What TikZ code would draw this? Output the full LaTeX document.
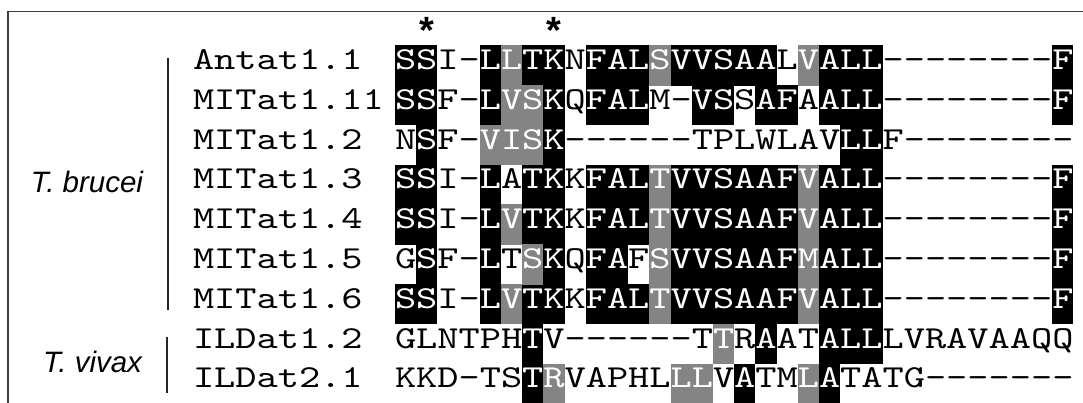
\documentclass[tikz,border=0pt]{standalone}
\usepackage{fontspec}
\newfontfamily\seqfont{lmmono10-regular.otf}[Ligatures=TeXOff, FakeStretch=1.262]
\newfontfamily\specfont{Liberation Sans}
\definecolor{simgray}{RGB}{132,132,132}
\definecolor{framecol}{RGB}{60,60,60}
\newcommand\W[1]{\textcolor{white}{#1}}
\tikzset{
  seqtxt/.style={inner sep=0pt, outer sep=0pt, anchor=base west,
    font=\seqfont\fontsize{32}{32}\selectfont},
  spectxt/.style={inner sep=0pt, outer sep=0pt, anchor=base east,
    font=\specfont\itshape\fontsize{29.5}{29.5}\selectfont},
  startxt/.style={inner sep=0pt, outer sep=0pt,
    font=\specfont\bfseries\fontsize{38}{38}\selectfont},
  bar/.style={line width=2pt, draw=black!85},
  framestyle/.style={line width=1.6pt, draw=framecol},
}
% cell geometry: column width, row pitch, first column x, first row top
\def\cw{21.2}
\def\rh{39.8}
\def\xo{395}
\def\yo{45.5}
\begin{document}
\begin{tikzpicture}[x=1pt, y=-1pt]
\useasboundingbox (0,0) rectangle (1083,403);

% outer frame (open at right and bottom)
\coordinate (fbl) at (8,404);
\coordinate (ftl) at (8,11.7);
\coordinate (ftr) at (1084,11.7);
\draw[framestyle] (fbl) -- (ftl) -- (ftr);

% identical residues
\foreach \r/\a/\b in {
  0/0/1, 0/4/4, 0/6/7, 0/9/11, 0/13/17, 0/20/22, 0/31/31,
  1/0/1, 1/4/4, 1/7/7, 1/9/11, 1/14/15, 1/17/18, 1/20/22, 1/31/31,
  2/1/1, 2/7/7, 2/21/22,
  3/0/1, 3/4/4, 3/6/7, 3/9/11, 3/13/18, 3/20/22, 3/31/31,
  4/0/1, 4/4/4, 4/6/7, 4/9/11, 4/13/18, 4/20/22, 4/31/31,
  5/1/1, 5/4/4, 5/7/7, 5/9/10, 5/13/18, 5/20/22, 5/31/31,
  6/0/1, 6/4/4, 6/6/7, 6/9/11, 6/13/18, 6/20/22, 6/31/31,
  7/6/6, 7/17/17, 7/20/22,
  8/6/6, 8/16/16, 8/20/20}
  \fill[black] ({\xo+\a*\cw},{\yo+\r*\rh-0.3}) rectangle ({\xo+(\b+1)*\cw},{\yo+(\r+1)*\rh+0.3});

% similar residues
\foreach \r/\a/\b in {
  0/5/5, 0/12/12, 0/19/19,
  1/5/6,
  2/4/6,
  3/12/12, 3/19/19,
  4/5/5, 4/12/12, 4/19/19,
  5/6/6, 5/12/12, 5/19/19,
  6/5/5, 6/12/12, 6/19/19,
  7/15/15,
  8/7/7, 8/13/14, 8/19/19}
  \fill[simgray] ({\xo+\a*\cw},{\yo+\r*\rh-0.3}) rectangle ({\xo+(\b+1)*\cw},{\yo+(\r+1)*\rh+0.3});

% conserved-site markers
\node[startxt] (star1) at ({\xo+1.5*\cw},30) {*};
\node[startxt] (star7) at ({\xo+7.5*\cw},30) {*};

% sequence names
\foreach \nm [count=\i from 0] in {Antat1.1,MITat1.11,MITat1.2,MITat1.3,MITat1.4,MITat1.5,MITat1.6,ILDat1.2,ILDat2.1}
  \node[seqtxt] (name\i) at (193,{\yo+24+\i*\rh}) {\nm};

% aligned sequences
\node[seqtxt] (seq0) at (\xo,{\yo+24+0*\rh}) {\W{SS}I-\W{LLTK}N\W{FALSVVSAA}L\W{VALL}--------\W{F}};
\node[seqtxt] (seq1) at (\xo,{\yo+24+1*\rh}) {\W{SS}F-\W{LVSK}Q\W{FAL}M-\W{VS}S\W{AF}A\W{ALL}--------\W{F}};
\node[seqtxt] (seq2) at (\xo,{\yo+24+2*\rh}) {N\W{S}F-\W{VISK}------TPLWLAV\W{LL}F--------};
\node[seqtxt] (seq3) at (\xo,{\yo+24+3*\rh}) {\W{SS}I-\W{L}A\W{TK}K\W{FALTVVSAAFVALL}--------\W{F}};
\node[seqtxt] (seq4) at (\xo,{\yo+24+4*\rh}) {\W{SS}I-\W{LVTK}K\W{FALTVVSAAFVALL}--------\W{F}};
\node[seqtxt] (seq5) at (\xo,{\yo+24+5*\rh}) {G\W{S}F-\W{L}T\W{SK}Q\W{FA}F\W{SVVSAAFMALL}--------\W{F}};
\node[seqtxt] (seq6) at (\xo,{\yo+24+6*\rh}) {\W{SS}I-\W{LVTK}K\W{FALTVVSAAFVALL}--------\W{F}};
\node[seqtxt] (seq7) at (\xo,{\yo+24+7*\rh}) {GLNTPH\W{T}V------T\W{T}R\W{A}AT\W{ALL}LVRAVAAQQ};
\node[seqtxt] (seq8) at (\xo,{\yo+24+8*\rh}) {KKD-TS\W{TR}VAPHL\W{LL}V\W{A}TM\W{LA}TATG-------};

% species groups
\node[spectxt] (brucei) at (143,193) {T. brucei};
\node[spectxt] (vivax) at (142,372) {T. vivax};
\coordinate (bt) at (168,58);
\coordinate (bb) at (168,310);
\coordinate (vt) at (167,337);
\coordinate (vb) at (167,393);
\draw[bar] (bt) -- (bb);
\draw[bar] (vt) -- (vb);
\end{tikzpicture}
\end{document}
